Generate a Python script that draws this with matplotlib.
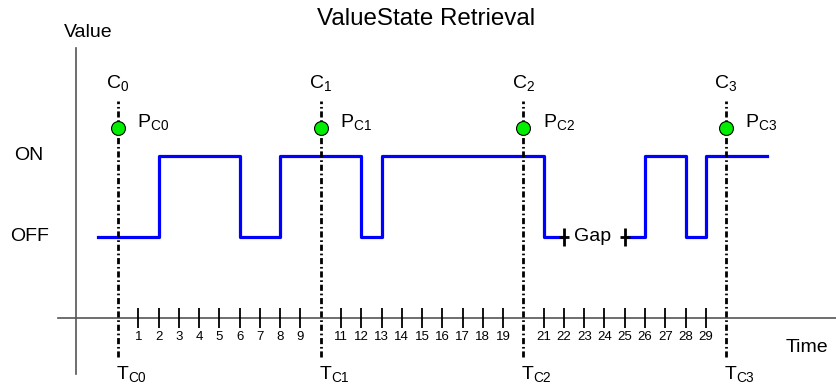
import matplotlib.pyplot as plt

plt.rcParams['font.family'] = ['Liberation Sans', 'DejaVu Sans']
plt.rcParams['mathtext.fontset'] = 'custom'
plt.rcParams['mathtext.rm'] = 'Liberation Sans'
plt.rcParams['mathtext.it'] = 'Liberation Sans'

# signal data (0 = OFF, 1 = ON), split by the gap
seg1_t = [-1, 2, 6, 8, 12, 13, 21, 22]
seg1_v = [0, 1, 0, 1, 0, 1, 0, 0]
seg2_t = [25, 26, 28, 29, 32]
seg2_v = [0, 1, 0, 1, 1]
gap_t = [22, 25]

# checkpoints
check_t = [0, 10, 20, 30]
check_names = ['0', '1', '2', '3']

# time ticks (checkpoint positions have no tick)
tick_t = [t for t in range(1, 30) if t not in check_t]
tick_labels = [str(t) for t in tick_t]

fig = plt.figure(figsize=(8.36, 3.86), dpi=100)
ax = fig.add_axes([0, 0, 1, 1])
ax.set_xlim(-5.82, 35.42)
ax.set_ylim(-1.84, 2.926)
ax.axis('off')

# axes lines
axis_y = -1
ax.plot([-2.96, 35.42], [axis_y, axis_y], color='#555555', lw=1.2)
ax.plot([-2.07, -2.07], [-1.69, 2.33], color='#555555', lw=1.2)

# ticks and tick labels
ax.plot(tick_t, [axis_y] * len(tick_t), ls='none', marker='|', ms=14,
        mew=1.3, color='black')
for t, lab in zip(tick_t, tick_labels):
    ax.text(t, -1.23, lab, ha='center', va='center', fontsize=9.5)

# signal
ax.plot(seg1_t, seg1_v, drawstyle='steps-post', color='#0000ff', lw=2.3)
ax.plot(seg2_t, seg2_v, drawstyle='steps-post', color='#0000ff', lw=2.3)

# gap markers
ax.plot(gap_t, [0, 0], ls='none', marker='|', ms=13, mew=2, color='black')
ax.plot(gap_t, [0, 0], ls='none', marker='_', ms=7, mew=2, color='black')
ax.text(sum(gap_t) / 2 - 0.1, 0, 'Gap', ha='center', va='center', fontsize=14)

# checkpoints
for t, n in zip(check_t, check_names):
    ax.plot([t, t], [-1.48, 1.68], color='black', lw=2.0,
            dashes=(2.2, 1, 0.6, 1), zorder=3)
    ax.plot(t, 1.35, 'o', ms=10, markerfacecolor='#00ee00',
            markeredgecolor='black', mew=0.8, zorder=4)
    ax.text(t, 1.9, r'$\mathrm{C}_{' + n + '}$', ha='center', va='center',
            fontsize=14)
    ax.text(t + 0.95, 1.42, r'$\mathrm{P}_{\mathrm{C' + n + '}}$', ha='left',
            va='center', fontsize=14)
    ax.text(t - 0.1, -1.69, r'$\mathrm{T}_{\mathrm{C' + n + '}}$', ha='left',
            va='center', fontsize=14)

# labels
ax.text(15.22, 2.69, 'ValueState Retrieval', ha='center', va='center',
        fontsize=17.4)
ax.text(-1.48, 2.53, 'Value', ha='center', va='center', fontsize=14)
ax.text(34.0, -1.36, 'Time', ha='center', va='center', fontsize=14)
ax.text(-4.38, 1, 'ON', ha='center', va='center', fontsize=14)
ax.text(-4.38, 0, 'OFF', ha='center', va='center', fontsize=14)

plt.savefig('out.png', dpi=100)
